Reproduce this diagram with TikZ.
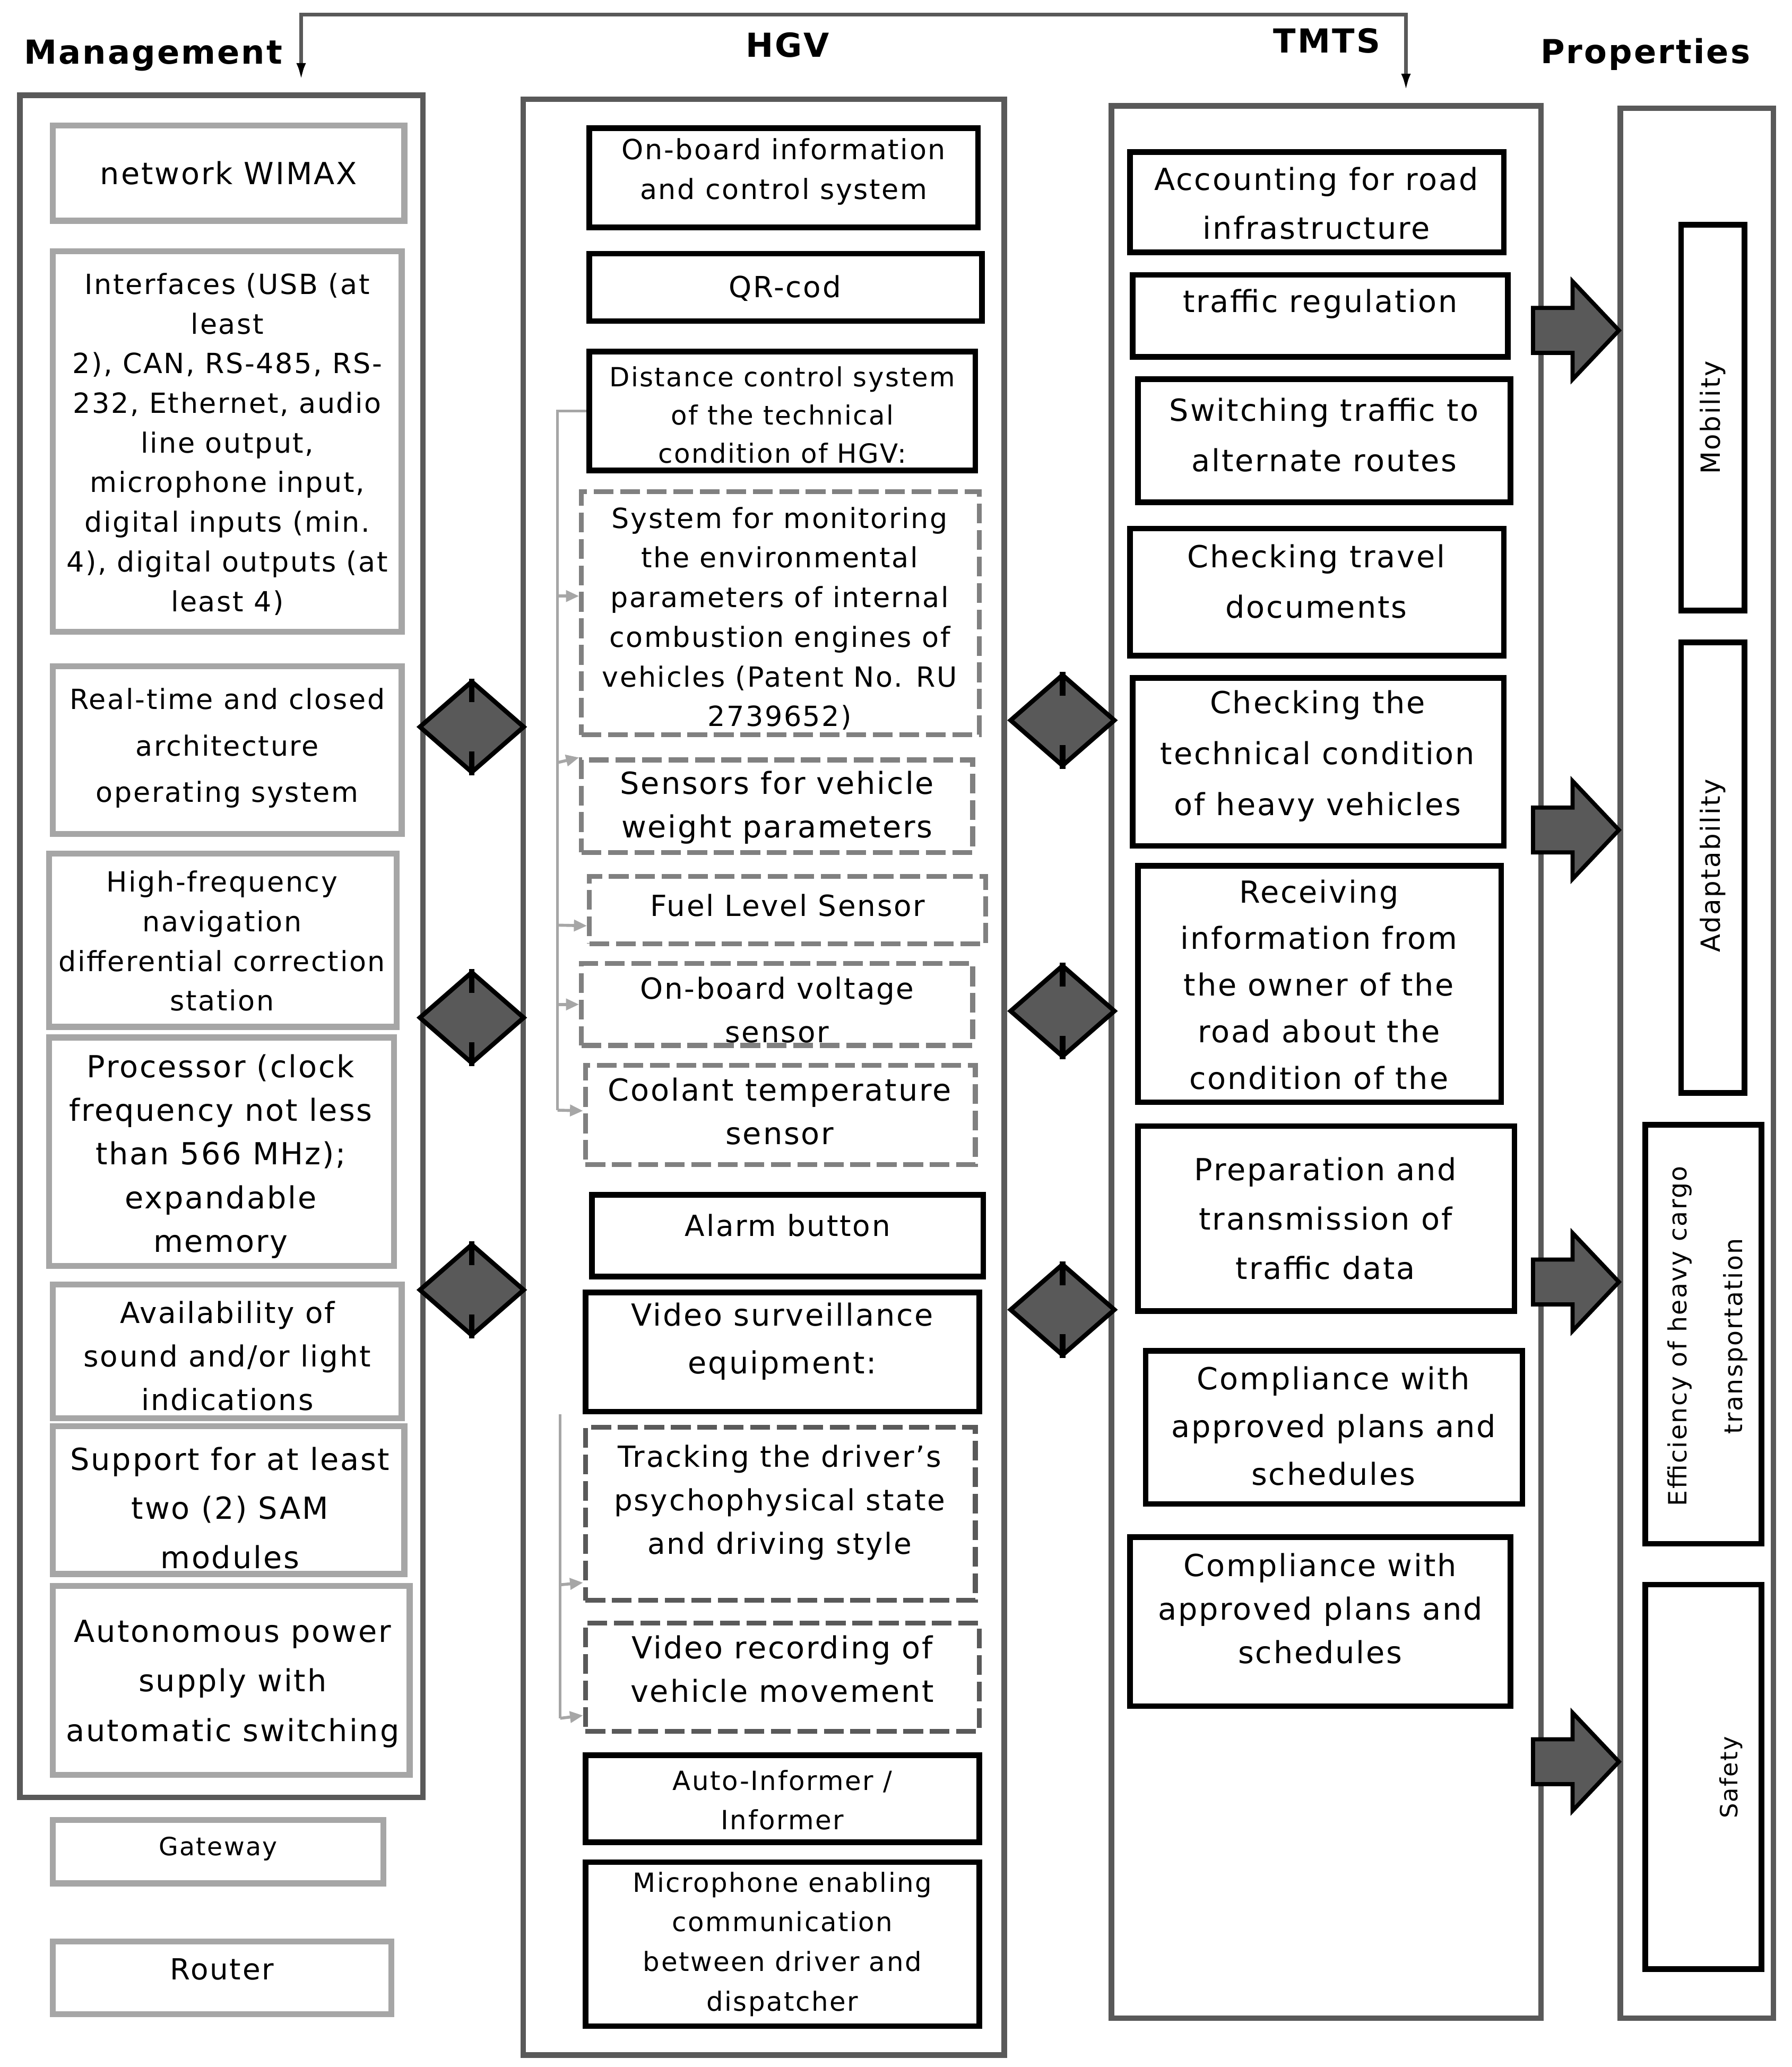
\documentclass[tikz,border=0pt]{standalone}
\usepackage{fontspec}
\setmainfont{DejaVu Sans}[LetterSpace=5.0]
\usetikzlibrary{shapes.geometric,fit,calc,arrows.meta}
\definecolor{dgray}{HTML}{595959}
\definecolor{mgray}{HTML}{A6A6A6}
\definecolor{lgray}{HTML}{808080}
\newdimen\pxu \pxu=0.7087pt
\newdimen\fszA \newdimen\fszB
\newcommand\fsz[2]{\fszA=#1\pxu\relax\fszB=#2\pxu\relax\fontsize{\the\fszA}{\the\fszB}\selectfont}
\newcommand\blockarr[1]{\draw[barrow] (1160,#1-17) -- (1190,#1-17) -- (1190,#1-37) -- (1225,#1) -- (1190,#1+37) -- (1190,#1+17) -- (1160,#1+17) -- cycle;}
\tikzset{
 outer/.style={draw=dgray, line width=3pt, inner sep=0pt},
 gbox/.style={draw=mgray, line width=3.2pt, inner sep=0pt},
 bbox/.style={draw=black, line width=3pt, inner sep=0pt},
 dbox/.style={draw=lgray, line width=2.6pt, dash pattern=on 10.6pt off 3.6pt, inner sep=0pt},
 ddbox/.style={dbox, draw=dgray},
 txt/.style={align=center, inner sep=0pt},
 head/.style={font=\bfseries\fsz{25}{30}, inner sep=0pt},
 dia/.style={diamond, draw=black, fill=dgray, line width=2.4pt, minimum width=19.9mm, minimum height=17.4mm, inner sep=0pt},
 diabar/.style={line width=3pt, draw=black},
 barrow/.style={draw=black, fill=dgray, line width=2.2pt, line join=miter},
 gconn/.style={draw=mgray, line width=1.6pt},
 garr/.style={gconn, -{Triangle[length=7pt, width=6pt, color=mgray]}},
 topconn/.style={draw=dgray, line width=2pt, {Latex[length=10pt,width=5pt,color=black]}-{Latex[length=10pt,width=5pt,color=black]}},
}
\begin{document}
\begin{tikzpicture}[x=0.249mm,y=-0.249mm]
\useasboundingbox (0,0) rectangle (1356,1564);

% headings
\node[head] (hM) at (116,42) {Management};
\node[head] (hH) at (596,34) {HGV};
\node[head] (hT) at (1004,31) {TMTS};
\node[head] (hP) at (1245,41) {Properties};

% outer column boxes
\node[outer, fit={(15,72) (320,1360)}] (mgmt) {};
\node[outer, fit={(396,75) (760,1555)}] (hgv) {};
\node[outer, fit={(841,80) (1166,1527)}] (tmts) {};
\node[outer, fit={(1226,82) (1342,1527)}] (props) {};

% top connector
\coordinate (ta) at ($(mgmt.north west)+(215,-8)$);
\coordinate (tb) at ($(tmts.north west)+(225,-8)$);
\draw[topconn] (ta) |- ($(tb)+(0,-59)$) -- (tb);

% ---------- Management ----------
\node[gbox, fit={(40,95) (306,167)}] (m1) {};
\node[txt, font=\fsz{23}{30}] (m1t) at (173,131) {network WIMAX};
\node[gbox, fit={(40,190) (304,478)}] (m2) {};
\node[txt, font=\fsz{21}{30}] (m2t) at (172,336) {Interfaces (USB (at\\least\\2), CAN, RS-485, RS-\\232, Ethernet, audio\\line output,\\microphone input,\\digital inputs (min.\\4), digital outputs (at\\least 4)};
\node[gbox, fit={(40,504) (304,631)}] (m3) {};
\node[txt, font=\fsz{21}{35}] (m3t) at (172,566) {Real-time and closed\\architecture\\operating system};
\node[gbox, fit={(37,646) (300,777)}] (m4) {};
\node[txt, font=\fsz{21}{30}] (m4t) at (168,712) {High-frequency\\navigation\\differential correction\\station};
\node[gbox, fit={(37,785) (298,958)}] (m5) {};
\node[txt, font=\fsz{23}{33}] (m5t) at (167,875) {Processor (clock\\frequency not less\\than 566 MHz);\\expandable\\memory};
\node[gbox, fit={(40,972) (304,1073)}] (m6) {};
\node[txt, font=\fsz{22}{33}] (m6t) at (172,1026) {Availability of\\sound and/or light\\indications};
\node[gbox, fit={(40,1079) (306,1191)}] (m7) {};
\node[txt, font=\fsz{23}{37}] (m7t) at (174,1141) {Support for at least\\two (2) SAM\\modules};
\node[gbox, fit={(40,1200) (310,1343)}] (m8) {};
\node[txt, font=\fsz{23}{37.5}] (m8t) at (176,1274) {Autonomous power\\supply with\\automatic switching};
\node[gbox, fit={(40,1377) (290,1425)}] (gw) {};
\node[txt, font=\fsz{19}{24}] (gwt) at (165,1399) {Gateway};
\node[gbox, fit={(40,1469) (296,1524)}] (rt) {};
\node[txt, font=\fsz{22}{26}] (rtt) at (168,1490) {Router};

% ---------- HGV ----------
\node[bbox, fit={(446,97) (740,172)}] (h1) {};
\node[txt, font=\fsz{21}{30}] (h1t) at (593,130) {On-board information\\and control system};
\node[bbox, fit={(446,192) (743,243)}] (h2) {};
\node[txt, font=\fsz{22}{26}] (h2t) at (594,218) {QR-cod};
\node[bbox, fit={(446,266) (738,356)}] (dist) {};
\node[txt, font=\fsz{20}{29}] (distt) at (592,314) {Distance control system\\of the technical\\condition of HGV:};
\node[dbox, fit={(440,372) (741,556)}] (mon) {};
\node[txt, font=\fsz{21}{30}] (mont) at (590,468) {System for monitoring\\the environmental\\parameters of internal\\combustion engines of\\vehicles (Patent No. RU\\2739652)};
\node[dbox, fit={(440,575) (736,645)}] (sens) {};
\node[txt, font=\fsz{23}{33}] (senst) at (588,611) {Sensors for vehicle\\weight parameters};
\node[dbox, fit={(446,663) (746,714)}] (fuel) {};
\node[txt, font=\fsz{22}{26}] (fuelt) at (596,685) {Fuel Level Sensor};
\node[dbox, fit={(440,729) (736,791)}] (volt) {};
\node[txt, font=\fsz{22}{33}] (voltt) at (588,764) {On-board voltage\\sensor};
\node[dbox, fit={(443,806) (738,881)}] (cool) {};
\node[txt, font=\fsz{23}{33}] (coolt) at (590,841) {Coolant temperature\\sensor};
\node[bbox, fit={(448,904) (744,966)}] (alarm) {};
\node[txt, font=\fsz{22}{26}] (alarmt) at (596,927) {Alarm button};
\node[bbox, fit={(443,978) (741,1068)}] (vid) {};
\node[txt, font=\fsz{23}{36}] (vidt) at (592,1015) {Video surveillance\\equipment:};
\node[ddbox, fit={(443,1080) (738,1211)}] (track) {};
\node[txt, font=\fsz{22}{33}] (trackt) at (590,1137) {Tracking the driver's\\psychophysical state\\and driving style};
\node[ddbox, fit={(443,1228) (741,1310)}] (vrec) {};
\node[txt, font=\fsz{23}{33}] (vrect) at (592,1263) {Video recording of\\vehicle movement};
\node[bbox, fit={(443,1328) (741,1394)}] (inf) {};
\node[txt, font=\fsz{20}{30}] (inft) at (592,1362) {Auto-Informer /\\Informer};
\node[bbox, fit={(443,1409) (741,1533)}] (mic) {};
\node[txt, font=\fsz{20}{30}] (mict) at (592,1471) {Microphone enabling\\communication\\between driver and\\dispatcher};

% gray connectors inside HGV
\coordinate (gA) at ($(dist.west)+(-22,0)$);
\draw[gconn] (dist.west) -- (gA) -- ($(gA)+(0,529)$);
\draw[garr] ($(gA)+(0,140)$) -- ($(mon.west)+(0,-13)$);
\draw[garr] ($(gA)+(0,266)$) -- (sens.north west);
\draw[garr] ($(gA)+(0,389)$) -- ($(fuel.west)+(0,12)$);
\draw[garr] ($(gA)+(0,449)$) -- (volt.west);
\draw[garr] ($(gA)+(0,529)$) -- ($(cool.west)+(0,-3)$);
\coordinate (gB) at ($(vid.south west)+(-17,0)$);
\draw[gconn] (gB) -- ($(gB)+(0,230)$);
\draw[garr] ($(gB)+(0,129)$) -- ($(track.west)+(0,52)$);
\draw[garr] ($(gB)+(0,230)$) -- ($(vrec.west)+(0,29)$);

% ---------- TMTS ----------
\node[bbox, fit={(855,115) (1138,191)}] (t1) {};
\node[txt, font=\fsz{23}{37}] (t1t) at (996,154) {Accounting for road\\infrastructure};
\node[bbox, fit={(857,208) (1141,270)}] (t2) {};
\node[txt, font=\fsz{23}{26}] (t2t) at (999,230) {traffic regulation};
\node[bbox, fit={(861,287) (1143,380)}] (t3) {};
\node[txt, font=\fsz{23}{38}] (t3t) at (1002,329) {Switching traffic to\\alternate routes};
\node[bbox, fit={(855,400) (1138,496)}] (t4) {};
\node[txt, font=\fsz{23}{38}] (t4t) at (996,440) {Checking travel\\documents};
\node[bbox, fit={(857,513) (1138,640)}] (t5) {};
\node[txt, font=\fsz{23}{38.5}] (t5t) at (997,572) {Checking the\\technical condition\\of heavy vehicles};
\node[bbox, fit={(861,655) (1136,834)}] (t6) {};
\node[txt, font=\fsz{23}{35.25}] (t6t) at (998,745) {Receiving\\information from\\the owner of the\\road about the\\condition of the};
\node[bbox, fit={(861,852) (1146,992)}] (t7) {};
\node[txt, font=\fsz{23}{37.5}] (t7t) at (1003,922) {Preparation and\\transmission of\\traffic data};
\node[bbox, fit={(867,1022) (1152,1138)}] (t8) {};
\node[txt, font=\fsz{23}{36}] (t8t) at (1009,1079) {Compliance with\\approved plans and\\schedules};
\node[bbox, fit={(855,1163) (1143,1291)}] (t9) {};
\node[txt, font=\fsz{23}{33}] (t9t) at (999,1217) {Compliance with\\approved plans and\\schedules};

% ---------- Properties ----------
\node[bbox, fit={(1272,170) (1320,462)}] (p1) {};
\node[txt, font=\fsz{20}{24}, rotate=90] (p1t) at (1296,316) {Mobility};
\node[bbox, fit={(1272,486) (1320,827)}] (p2) {};
\node[txt, font=\fsz{20}{24}, rotate=90] (p2t) at (1296,655) {Adaptability};
\node[bbox, fit={(1245,851) (1333,1168)}] (p3) {};
\node[txt, font=\fsz{19}{42}, rotate=90] (p3t) at (1292,1011) {Efficiency of heavy cargo\\transportation};
\node[bbox, fit={(1245,1199) (1333,1490)}] (p4) {};
\node[txt, font=\fsz{18}{22}, rotate=90] (p4t) at (1310,1345) {Safety};

% ---------- diamonds ----------
\foreach \n/\x/\y in {d1/357/550, d2/357/770, d3/357/976, d4/804/545, d5/804/765, d6/804/991}{
  \node[dia] (\n) at (\x,\y) {};
  \draw[diabar] (\n.north) -- ++(0,18);
  \draw[diabar] (\n.south) -- ++(0,-18);
}

% ---------- block arrows ----------
\blockarr{250}
\blockarr{628}
\blockarr{970}
\blockarr{1333}

\end{tikzpicture}
\end{document}
